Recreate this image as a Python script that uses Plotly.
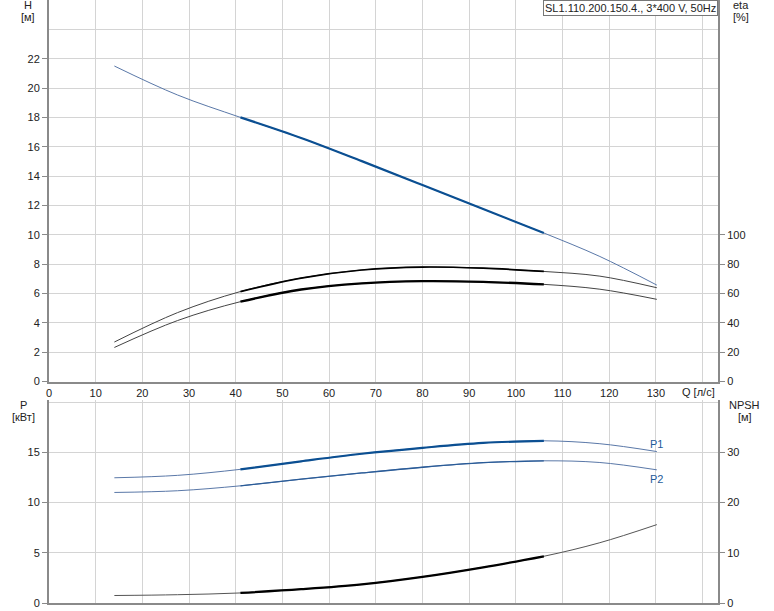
import plotly.graph_objects as go

# ---- data ----
Q = [14, 27.5, 41, 54, 67, 80, 93, 106, 118, 130.2]
H = [21.5, 19.53, 18.0, 16.6, 15.02, 13.39, 11.75, 10.12, 8.52, 6.57]
ETA1 = [26.9, 46.9, 61.3, 70.5, 76.0, 78.0, 77.2, 75.0, 71.8, 63.9]
ETA2 = [23.2, 41.5, 54.4, 62.7, 66.9, 68.4, 67.9, 66.2, 62.9, 56.0]
P1 = [12.46, 12.7, 13.3, 14.1, 14.85, 15.44, 15.93, 16.14, 15.85, 15.07]
P2 = [11.0, 11.17, 11.66, 12.32, 12.94, 13.51, 13.96, 14.15, 13.98, 13.25]
NPSH = [1.49, 1.65, 2.0, 2.75, 3.72, 5.2, 7.1, 9.3, 12.0, 15.6]
OP_RANGE = (41, 106)  # operating range drawn thicker

X_TICKS = list(range(0, 131, 10))
H_TICKS = list(range(0, 23, 2))
ETA_TICKS = list(range(0, 101, 20))
P_TICKS = [0, 5, 10, 15]
NPSH_TICKS = [0, 10, 20, 30]
TITLE = "SL1.110.200.150.4., 3*400 V, 50Hz"

W, HT = 774, 611
ML, MR, MT, MB = 49, 56, 0, 8
PW = W - ML - MR
PH = HT - MT - MB

def px(x):
    return (x - ML) / PW

def py(y):
    return 1 - (y - MT) / PH

def seg(xs, ys):
    sx, sy = [], []
    for a, b in zip(xs, ys):
        if OP_RANGE[0] <= a <= OP_RANGE[1]:
            sx.append(a)
            sy.append(b)
    return sx, sy

BLUE_THIN = "#5a78a8"
BLUE_THICK = "#0b4f92"
GRID = "#d4d4d4"
AX = "#8a8a8a"
FONT = dict(family="Liberation Sans, Arial, sans-serif", size=11, color="#222")

fig = go.Figure()

def add(xs, ys, xa, ya, thin_color, thick_color, thin_w=1, thick_w=2.2):
    fig.add_trace(go.Scatter(x=xs, y=ys, xaxis=xa, yaxis=ya, mode="lines",
                             line=dict(color=thin_color, width=thin_w, shape="spline", smoothing=1),
                             hoverinfo="skip", showlegend=False))
    sx, sy = seg(xs, ys)
    fig.add_trace(go.Scatter(x=sx, y=sy, xaxis=xa, yaxis=ya, mode="lines",
                             line=dict(color=thick_color, width=thick_w, shape="spline", smoothing=1),
                             hoverinfo="skip", showlegend=False))

add(Q, H, "x", "y", BLUE_THIN, BLUE_THICK)
add(Q, ETA1, "x", "y2", "#444", "#000", 1, 1.7)
add(Q, ETA2, "x", "y2", "#444", "#000", 1, 2.3)
add(Q, P1, "x2", "y3", BLUE_THIN, BLUE_THICK)
add(Q, P2, "x2", "y3", BLUE_THIN, "#2a5c98", 1, 1.3)
add(Q, NPSH, "x2", "y4", "#555", "#000", 1, 2.3)

top_dom = [py(381.5), 1]
bot_dom = [0, py(400)]
XR = [0, 143.3]

common_x = dict(range=XR, showgrid=True, gridcolor=GRID, gridwidth=1,
                zeroline=False, showline=True, linecolor=AX, linewidth=2,
                ticks="", tickfont=FONT, domain=[0, 1], automargin=False)

yax = dict(zeroline=False, showline=True, linecolor=AX, linewidth=2,
           ticks="outside", ticklen=5, tickcolor=AX, tickfont=FONT, automargin=False)

fig.update_layout(
    template="none",
    width=W, height=HT,
    margin=dict(l=ML, r=MR, t=MT, b=MB, autoexpand=False),
    paper_bgcolor="white", plot_bgcolor="white",
    font=FONT,
    showlegend=False,
    xaxis=dict(common_x, anchor="y", tickvals=X_TICKS + [140],
               ticktext=[str(v) for v in X_TICKS] + [""]),
    yaxis=dict(yax, domain=top_dom, range=[0, 26], tickvals=H_TICKS,
               showgrid=True, gridcolor=GRID,
               minor=dict(tickvals=[24], showgrid=True, gridcolor=GRID, ticklen=0)),
    yaxis2=dict(yax, overlaying="y", side="right", anchor="x", range=[0, 260],
                tickvals=ETA_TICKS, showgrid=False),
    xaxis2=dict(common_x, anchor="y3", tickvals=X_TICKS[1:] + [140],
                showticklabels=False),
    yaxis3=dict(yax, domain=bot_dom, range=[0, 20.2], tickvals=P_TICKS,
                showgrid=True, gridcolor=GRID,
                minor=dict(tickvals=[20], showgrid=True, gridcolor=GRID, ticklen=0)),
    yaxis4=dict(yax, overlaying="y3", side="right", anchor="x2", range=[0, 40.4],
                tickvals=NPSH_TICKS, showgrid=False),
)

def ann(text, x, y, **kw):
    d = dict(text=text, x=px(x), y=py(y), xref="paper", yref="paper",
             showarrow=False, xanchor="center", yanchor="middle", font=FONT)
    d.update(kw)
    fig.add_annotation(**d)

ann("H", 28, 5)
ann("[м]", 28, 17)
ann("eta", 741, 5)
ann("[%]", 741, 17)
ann("P", 23, 405)
ann("[кВт]", 23, 417)
ann("NPSH", 745, 405)
ann("[м]", 745, 417)
ann("Q [л/с]", 698, 392)

fig.add_annotation(text=TITLE, x=1, y=1, xref="paper", yref="paper",
                   xanchor="right", yanchor="top", showarrow=False,
                   font=FONT, bgcolor="white", bordercolor="#777",
                   borderwidth=1, borderpad=1)

fig.add_annotation(text="P1", x=Q[-1], y=P1[-1], xref="x2", yref="y3",
                   showarrow=False, xanchor="center", yanchor="bottom",
                   yshift=0, font=dict(FONT, color="#1f5b9a"))
fig.add_annotation(text="P2", x=Q[-1], y=P2[-1], xref="x2", yref="y3",
                   showarrow=False, xanchor="center", yanchor="top",
                   yshift=-1, font=dict(FONT, color="#1f5b9a"))

fig.write_html("out.html",
               config={"displayModeBar": False, "staticPlot": True},
               post_script="document.body.style.margin='0';document.body.style.padding='0';")
